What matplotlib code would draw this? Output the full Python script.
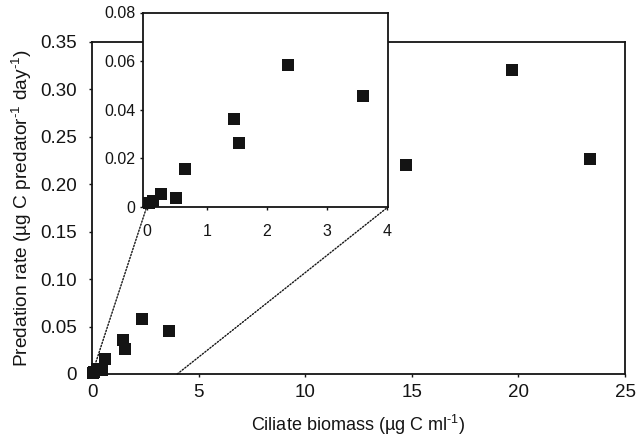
import matplotlib
matplotlib.use("Agg")
import matplotlib.pyplot as plt
from matplotlib.patches import ConnectionPatch
from matplotlib.ticker import FuncFormatter

plt.rcParams['font.family'] = ['Liberation Sans', 'DejaVu Sans']
plt.rcParams['mathtext.fontset'] = 'custom'
plt.rcParams['mathtext.rm'] = 'Liberation Sans'
plt.rcParams['mathtext.it'] = 'Liberation Sans:italic'

# Data (ciliate biomass, predation rate)
biomass = [0.04, 0.10, 0.23, 0.48, 0.63, 1.45, 1.54, 2.35, 3.60, 14.71, 19.69, 23.36]
predation = [0.0015, 0.0025, 0.0053, 0.0038, 0.0156, 0.036, 0.0265, 0.0585, 0.0455, 0.220, 0.321, 0.227]

main_xticks = [0, 5, 10, 15, 20, 25]
main_yticks = [0, 0.05, 0.10, 0.15, 0.20, 0.25, 0.30, 0.35]
inset_xticks = [0, 1, 2, 3, 4]
inset_yticks = [0, 0.02, 0.04, 0.06, 0.08]

W, H = 638, 437
fig = plt.figure(figsize=(W / 100, H / 100), dpi=100)

ax = fig.add_axes([92 / W, 1 - 374 / H, (625 - 92) / W, (374 - 42) / H])
ax.scatter(biomass, predation, marker='s', s=78, color='#141414', clip_on=False, zorder=3, linewidths=0)
ax.set_xlim(0, 25)
ax.set_ylim(0, 0.35)
ax.set_xticks(main_xticks)
ax.set_yticks(main_yticks)
ax.xaxis.set_major_formatter(FuncFormatter(lambda v, p: '0' if v == 0 else f'{v:g}'))
ax.yaxis.set_major_formatter(FuncFormatter(lambda v, p: '0' if v == 0 else f'{v:.2f}'))
ax.tick_params(axis='both', direction='out', length=2, width=1, labelsize=13.5, colors='#141414')
ax.tick_params(axis='y', pad=9)
ax.tick_params(axis='x', pad=5)
for s in ax.spines.values():
    s.set_linewidth(1.3)
    s.set_color('#141414')
ax.set_xlabel('Ciliate biomass (µg C ml$^{\\text{-1}}$)', fontsize=13, labelpad=9, color='#141414')
ax.set_ylabel('Predation rate (µg C predator$^{\\text{-1}}$ day$^{\\text{-1}}$)', fontsize=13.8,
              labelpad=4, color='#141414')

ins = fig.add_axes([142.5 / W, 1 - 207 / H, (388 - 142.5) / W, (207 - 12.5) / H], zorder=5)
ins.set_facecolor('white')
in_mask = [b <= 4 for b in biomass]
ins.scatter([b for b, m in zip(biomass, in_mask) if m], [p for p, m in zip(predation, in_mask) if m],
            marker='s', s=78, color='#141414', clip_on=False, zorder=3, linewidths=0)
ins.set_xlim(-0.07, 4.02)
ins.set_ylim(0, 0.08)
ins.set_xticks(inset_xticks)
ins.set_yticks(inset_yticks)
ins.yaxis.set_major_formatter(FuncFormatter(lambda v, p: '0' if v == 0 else f'{v:.2f}'))
ins.tick_params(axis='both', direction='out', length=2, width=1, labelsize=11.5, colors='#141414')
ins.tick_params(axis='x', pad=10)
ins.tick_params(axis='y', pad=3)
for s in ins.spines.values():
    s.set_linewidth(1.3)
    s.set_color('#141414')

for (xa, xb) in [((0, 0), (0, 0)), ((4, 0), (4.02, 0))]:
    cp = ConnectionPatch(xyA=xa, coordsA=ax.transData, xyB=xb, coordsB=ins.transData,
                         linestyle=(0, (1, 1.3)), linewidth=1.0, color='#141414', zorder=2)
    fig.add_artist(cp)

fig.savefig('out.png', dpi=100)
